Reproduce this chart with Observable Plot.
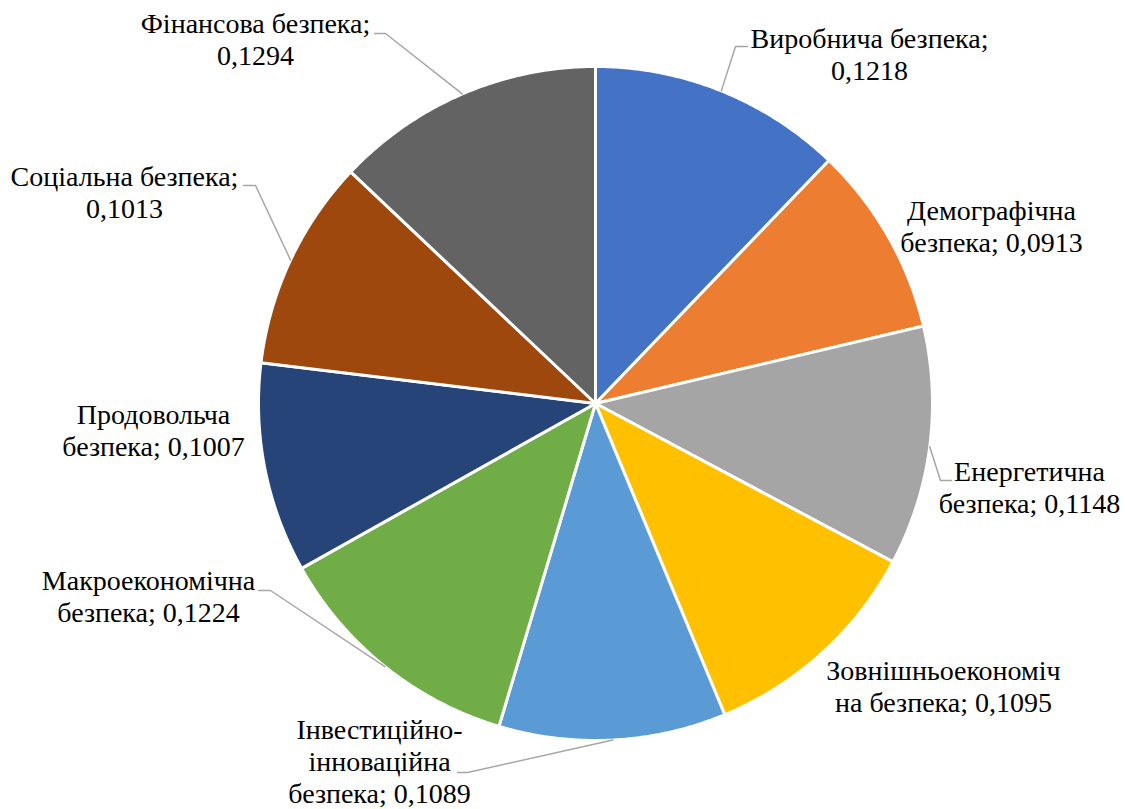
<!DOCTYPE html>
<html>
<head>
<meta charset="utf-8">
<script src="https://cdn.jsdelivr.net/npm/d3@7"></script>
<script src="https://cdn.jsdelivr.net/npm/@observablehq/plot@0.6"></script>
<style>
  html, body { margin: 0; padding: 0; background: #fff; }
  #chart svg { display: block; font-family: "Liberation Serif", "Times New Roman", serif; }
  #chart svg text { font-family: "Liberation Serif", "Times New Roman", serif; }
</style>
</head>
<body>
<div id="chart"></div>
<script>
// ---- data ----
const names = [
  "Виробнича безпека", "Демографічна безпека", "Енергетична безпека",
  "Зовнішньоекономічна безпека", "Інвестиційно-інноваційна безпека",
  "Макроекономічна безпека", "Продовольча безпека", "Соціальна безпека",
  "Фінансова безпека"
];
const values = [0.1218, 0.0913, 0.1148, 0.1095, 0.1089, 0.1224, 0.1007, 0.1013, 0.1294];
const colors = ["#4472C4", "#ED7D31", "#A5A5A5", "#FFC000", "#5B9BD5", "#70AD47", "#264478", "#9E480E", "#636363"];
const labelTexts = [
  "Виробнича безпека;\n0,1218",
  "Демографічна\nбезпека; 0,0913",
  "Енергетична\nбезпека; 0,1148",
  "Зовнішньоекономіч\nна безпека; 0,1095",
  "Інвестиційно-\nінноваційна\nбезпека; 0,1089",
  "Макроекономічна\nбезпека; 0,1224",
  "Продовольча\nбезпека; 0,1007",
  "Соціальна безпека;\n0,1013",
  "Фінансова безпека;\n0,1294"
];

// ---- layout (pixel frame) ----
const W = 1125, H = 809;
const cx = 595, cy = 403, R = 337;
// label centre positions
const labelX = [869, 991, 1029, 943, 379, 148, 153, 124, 255];
const labelY = [53, 225, 486, 685, 760, 595, 429, 191, 38];
// leader elbow + end (null = no leader)
const leaders = [
  [[735, 46], [747, 46]],
  null,
  [[940, 480], [951, 480]],
  null,
  [[467, 772], [457, 772]],
  [[270, 590], [258, 590]],
  null,
  [[255, 185], [243, 185]],
  [[385, 33], [374, 33]]
];

const total = d3.sum(values);
const pt = (a, r) => [cx + r * Math.sin(a), cy - r * Math.cos(a)];

const slicePts = [];
const arcMid = [];
let acc = 0;
values.forEach((v, i) => {
  const a0 = acc / total * 2 * Math.PI;
  acc += v;
  const a1 = acc / total * 2 * Math.PI;
  slicePts.push({name: names[i], x: cx, y: cy});
  const n = Math.max(2, Math.ceil((a1 - a0) / (Math.PI / 360)));
  for (let k = 0; k <= n; k++) {
    const [x, y] = pt(a0 + (a1 - a0) * k / n, R);
    slicePts.push({name: names[i], x, y});
  }
  arcMid.push(pt((a0 + a1) / 2, R));
});

const leaderPts = [];
leaders.forEach((l, i) => {
  if (!l) return;
  const [sx, sy] = arcMid[i];
  leaderPts.push({name: names[i], x: sx, y: sy});
  l.forEach(([x, y]) => leaderPts.push({name: names[i], x, y}));
});

const labelData = names.map((n, i) => ({name: n, text: labelTexts[i], x: labelX[i], y: labelY[i]}));

const FONT = "'Liberation Serif', 'Times New Roman', serif";
const chart = Plot.plot({
  width: W,
  height: H,
  margin: 0,
  style: {fontFamily: FONT, background: "#fff"},
  x: {domain: [0, W], range: [0, W], axis: null},
  y: {domain: [0, H], range: [0, H], axis: null},
  color: {domain: names, range: colors},
  marks: [
    Plot.line(slicePts, {x: "x", y: "y", z: "name", fill: "name", stroke: "#fff", strokeWidth: 3, curve: "linear-closed", strokeLinejoin: "round"}),
    Plot.line(leaderPts, {x: "x", y: "y", z: "name", stroke: "#A6A6A6", strokeWidth: 1.5}),
    Plot.text(labelData, {x: "x", y: "y", text: "text", fontSize: 28, fontFamily: FONT, lineHeight: 32 / 28, fill: "#000", textAnchor: "middle", lineAnchor: "middle"})
  ]
});
document.getElementById("chart").appendChild(chart);
</script>
</body>
</html>
